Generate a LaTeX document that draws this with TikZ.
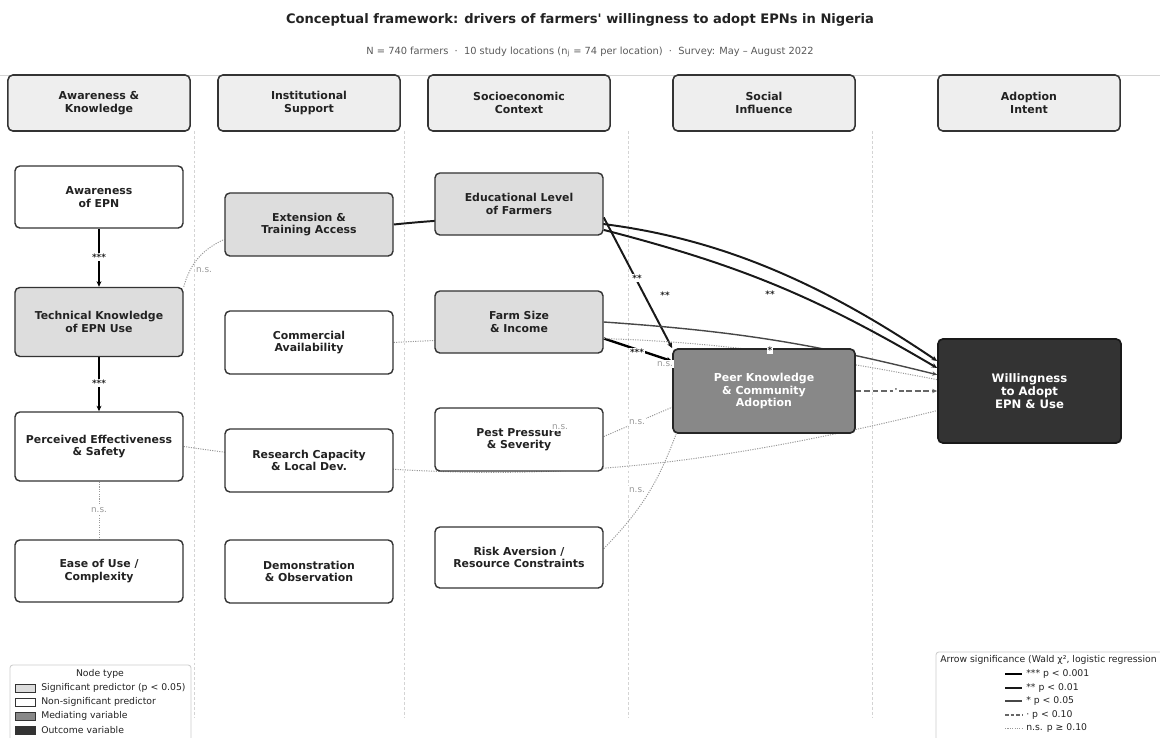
\documentclass[tikz,border=0pt]{standalone}
\usepackage{fontspec}
\setmainfont{DejaVu Sans}
\usetikzlibrary{arrows.meta,calc}

\definecolor{sigfill}{HTML}{DDDDDD}
\definecolor{medfill}{HTML}{888888}
\definecolor{outfill}{HTML}{333333}
\definecolor{hdrfill}{HTML}{EEEEEE}
\definecolor{boxline}{HTML}{333333}
\definecolor{textdark}{HTML}{222222}
\definecolor{nsgray}{HTML}{999999}
\definecolor{guidegray}{HTML}{D4D4D4}
\definecolor{framegray}{HTML}{CCCCCC}

\pgfdeclarelayer{bg}
\pgfsetlayers{bg,main}

\newcommand{\boxfont}{\fontsize{7.75}{8.7}\selectfont\bfseries}
\newcommand{\legfont}{\fontsize{6.6}{7.6}\selectfont}

\begin{document}
\begin{tikzpicture}[x=0.025cm,y=-0.025cm,
    box/.style={draw=boxline,line width=1pt,rounded corners=3.5pt,align=center,
      font=\boxfont,text=textdark,minimum width=4.2cm,minimum height=1.55cm,inner sep=1pt},
    sigbox/.style={box,fill=sigfill},
    nsbox/.style={box,fill=white},
    hdr/.style={draw=boxline,line width=1.1pt,fill=hdrfill,rounded corners=3.5pt,align=center,
      font=\fontsize{7.8}{8.7}\selectfont\bfseries,text=textdark,
      minimum width=4.55cm,minimum height=1.4cm},
    medbox/.style={box,fill=medfill,draw=black!85,line width=1.2pt,text=white,
      font=\fontsize{7.8}{8.7}\selectfont\bfseries,minimum width=4.55cm,minimum height=2.1cm},
    outbox/.style={box,fill=outfill,draw=black!90,line width=1.2pt,text=white,
      font=\fontsize{8.3}{9}\selectfont\bfseries,minimum width=4.575cm,minimum height=2.6cm},
    sigthree/.style={line width=1.7pt,black,-{Stealth[length=4pt,width=3.5pt]}},
    sigtwo/.style={line width=1.4pt,black!90,-{Stealth[length=4pt,width=3.5pt]}},
    sigone/.style={line width=1pt,black!72,-{Stealth[length=3.5pt,width=3pt]}},
    trend/.style={line width=1pt,black!60,dash pattern=on 4pt off 2pt,-{Stealth[length=3.5pt,width=3pt]}},
    nsline/.style={line width=0.7pt,nsgray,dash pattern=on 0.8pt off 0.9pt},
    guide/.style={line width=0.4pt,guidegray,dash pattern=on 2pt off 1.5pt},
    lbl/.style={fill=white,inner sep=0.8pt,text=textdark,font=\fontsize{6.3}{7}\selectfont\bfseries},
    nslbl/.style={fill=white,inner sep=0.8pt,text=nsgray,font=\fontsize{6.3}{7}\selectfont},
    legtext/.style={anchor=west,inner sep=0pt,text=textdark,font=\legfont},
    patch/.style={draw=boxline,line width=0.6pt}]

  \useasboundingbox (0,0) rectangle (1160,738);

  \node[font=\fontsize{9.3}{11}\selectfont\bfseries,text=textdark] (title) at (580,20)
    {Conceptual framework: drivers of farmers\textquotesingle{} willingness to adopt EPNs in Nigeria};
  \node[font=\fontsize{7}{8.5}\selectfont,text=black!65] (sub) at (590,52)
    {N = 740 farmers~~·~~10 study locations (n\textsubscript{j} = 74 per location)~~·~~Survey: May – August 2022};

  % column headers
  \node[hdr] (h1) at (99,103)   {Awareness \&\\Knowledge};
  \node[hdr] (h2) at (309,103)  {Institutional\\Support};
  \node[hdr] (h3) at (519,103)  {Socioeconomic\\Context};
  \node[hdr] (h4) at (764,103)  {Social\\Influence};
  \node[hdr] (h5) at (1029,103) {Adoption\\Intent};

  % awareness & knowledge
  \node[nsbox] (aware) at (99,197) {Awareness\\of EPN};
  \node[sigbox,minimum height=1.725cm] (tech) at (99,322) {Technical Knowledge\\of EPN Use};
  \node[nsbox,minimum height=1.725cm] (perc) at (99,446.5) {Perceived Effectiveness\\\& Safety};
  \node[nsbox] (ease) at (99,571) {Ease of Use /\\Complexity};

  % institutional support
  \node[sigbox,minimum height=1.575cm] (ext) at (309,224.5) {Extension \&\\Training Access};
  \node[nsbox,minimum height=1.575cm] (comm) at (309,342.5) {Commercial\\Availability};
  \node[nsbox,minimum height=1.575cm] (res) at (309,460.5) {Research Capacity\\\& Local Dev.};
  \node[nsbox,minimum height=1.575cm] (demo) at (309,571.5) {Demonstration\\\& Observation};

  % socioeconomic context
  \node[sigbox] (edu) at (519,204) {Educational Level\\of Farmers};
  \node[sigbox] (farm) at (519,322) {Farm Size\\\& Income};
  \node[nsbox,minimum height=1.575cm] (pest) at (519,439.5) {Pest Pressure\\\& Severity};
  \node[nsbox,minimum height=1.525cm] (risk) at (519,557.5) {Risk Aversion /\\Resource Constraints};

  \node[medbox] (peer) at (764,391) {Peer Knowledge\\\& Community\\Adoption};
  \node[outbox] (will) at (1029.5,391) {Willingness\\to Adopt\\EPN \& Use};

  \begin{pgfonlayer}{bg}
    \draw[line width=0.5pt,guidegray] (0,75) -- (1160,75);
    \foreach \x in {194,404,628,872}
      \draw[guide] (\x,131) -- (\x,718);

    \draw[sigthree] (aware) -- (tech);
    \draw[sigthree] (tech) -- (perc);
    \draw[nsline] (perc) -- (ease);
    \draw[nsline] (tech.north east) to[bend left=25] (ext.190);
    \draw[sigtwo] (ext.east) to[bend left=20] (will.162);
    \draw[sigtwo] (edu.-17) to[bend left=8] (will.166);
    \draw[sigtwo] (edu.-9) -- (peer.north west);
    \draw[sigone] (farm.east) to[bend left=5] (will.170);
    \draw[sigthree] (farm.-11) -- (peer.162);
    \draw[nsline] (comm.east) to[bend left=7] (will.173);
    \draw[trend] (peer.east) -- (will.west);
    \draw[nsline] (pest.2) -- (peer.190);
    \draw[nsline] (risk.6) to[bend right=12] (peer.206);
    \draw[nsline] (perc.east) to[bend right=11] (will.192);
  \end{pgfonlayer}

  % significance labels
  \node[lbl] (l1) at (99,257) {***};
  \node[lbl] (l2) at (99,383) {***};
  \node[nslbl] (l3) at (99,510) {n.s.};
  \node[nslbl] (l4) at (204,270) {n.s.};
  \node[lbl] (l5) at (665,295) {**};
  \node[lbl] (l6) at (770,294) {**};
  \node[lbl] (l7) at (637,278) {**};
  \node[lbl] (l8) at (770,350) {*};
  \node[lbl] (l9) at (637,352) {***};
  \node[nslbl] (l10) at (665,364) {n.s.};
  \node[lbl,text=black!60] (l11) at (896,391) {·};
  \node[nslbl] (l12) at (637,422) {n.s.};
  \node[nslbl] (l13) at (560,427) {n.s.};
  \node[nslbl] (l14) at (637,490) {n.s.};

  % node type legend
  \draw[framegray,line width=0.6pt,rounded corners=2pt,fill=white]
    (10,738) -- (10,665) -- (191,665) -- (191,738);
  \node[font=\legfont,text=textdark] (ntitle) at (100,674) {Node type};
  \draw[patch,fill=sigfill] (15,684) rectangle (35,692);
  \draw[patch,fill=white]   (15,698) rectangle (35,706);
  \draw[patch,fill=medfill] (15,712) rectangle (35,720);
  \draw[patch,fill=outfill] (15,726) rectangle (35,734);
  \node[legtext] (n1) at (41,688) {Significant predictor (p < 0.05)};
  \node[legtext] (n2) at (41,702) {Non-significant predictor};
  \node[legtext] (n3) at (41,716) {Mediating variable};
  \node[legtext] (n4) at (41,730) {Outcome variable};

  % arrow legend
  \draw[framegray,line width=0.6pt,rounded corners=2pt,fill=white]
    (1160,652) -- (936,652) -- (936,738);
  \node[legtext] (atitle) at (940,660) {Arrow significance (Wald χ², logistic regression};
  \draw[line width=1.7pt,black] (1005,674) -- (1022,674);
  \draw[line width=1.4pt,black!90] (1005,688) -- (1022,688);
  \draw[line width=1pt,black!72] (1005,701) -- (1022,701);
  \draw[line width=1pt,black!60,dash pattern=on 2.5pt off 1.5pt] (1005,715) -- (1022,715);
  \draw[nsline] (1005,728) -- (1022,728);
  \node[legtext] (a1) at (1026,674) {*** p < 0.001};
  \node[legtext] (a2) at (1026,688) {** p < 0.01};
  \node[legtext] (a3) at (1026,701) {* p < 0.05};
  \node[legtext] (a4) at (1026,715) {· p < 0.10};
  \node[legtext] (a5) at (1026,728) {n.s. p ≥ 0.10};
\end{tikzpicture}
\end{document}
